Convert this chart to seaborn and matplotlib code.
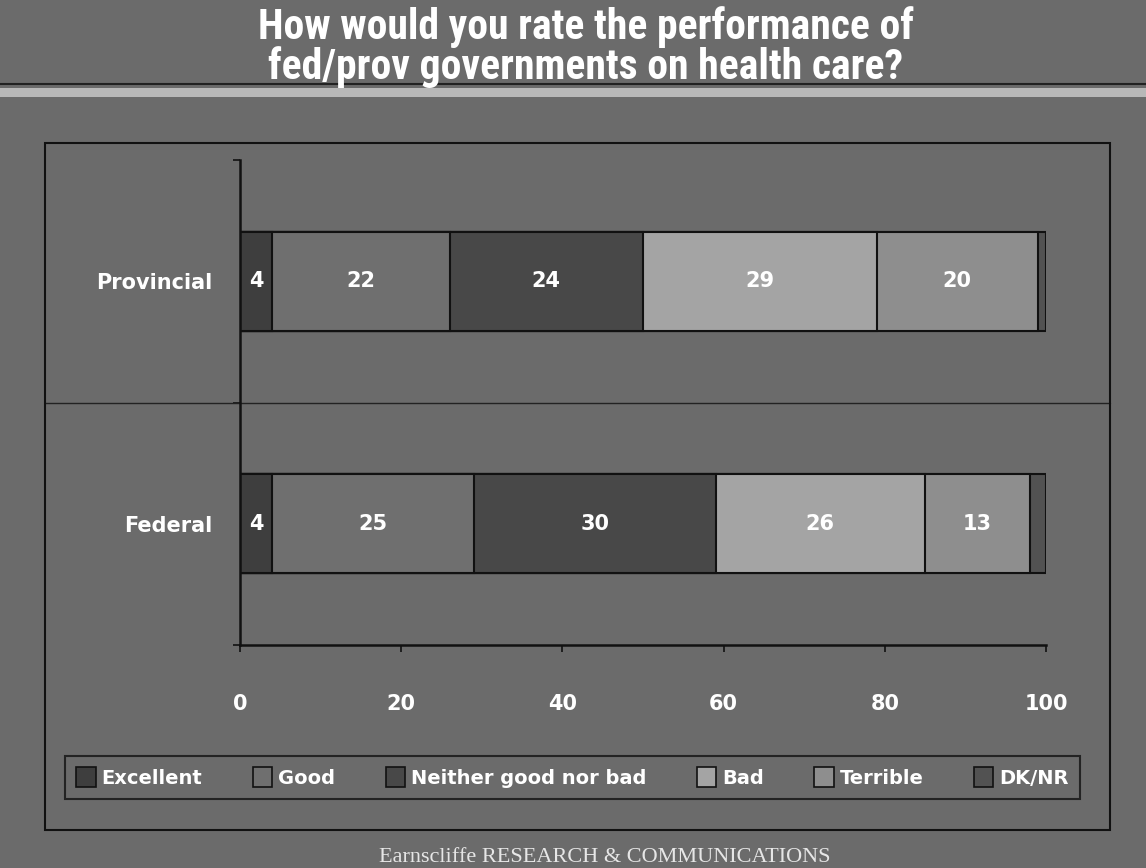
import matplotlib
matplotlib.use("Agg")
import matplotlib.pyplot as plt
import seaborn as sns
import pandas as pd
import numpy as np
from matplotlib.patches import Rectangle, Patch
from matplotlib.lines import Line2D

# ---- data ----
levels = ["Provincial", "Federal"]
series = ["Excellent", "Good", "Neither good nor bad", "Bad", "Terrible", "DK/NR"]
excellent = [4, 4]
good = [22, 25]
neither = [24, 30]
bad = [29, 26]
terrible = [20, 13]
dknr = [1, 2]
xticks = [0, 20, 40, 60, 80, 100]
title_lines = ["How would you rate the performance of",
               "fed/prov governments on health care?"]
footer = "Earnscliffe RESEARCH & COMMUNICATIONS"

colors = ["#3e3e3e", "#6f6f6f", "#484848", "#a4a4a4", "#8e8e8e", "#525252"]
bg = "#6b6b6b"

df = pd.DataFrame({"Level": levels, "Excellent": excellent, "Good": good,
                   "Neither good nor bad": neither, "Bad": bad,
                   "Terrible": terrible, "DK/NR": dknr})
cum = df[series].cumsum(axis=1)
for s in series:
    df["cum_" + s] = cum[s]

sns.set_theme(style="white")
plt.rcParams["font.family"] = ["DejaVu Sans"]

W, H = 1146, 868
fig = plt.figure(figsize=(W / 100, H / 100), dpi=100)
fig.patch.set_facecolor(bg)

def fx(px):
    return px / W

def fy(py):
    return 1 - py / H

# title band decorations
fig.add_artist(Rectangle((0, fy(97)), 1, (97 - 88) / H, transform=fig.transFigure,
                         facecolor="#b8b8b8", edgecolor="none"))
fig.add_artist(Line2D([0, 1], [fy(84), fy(84)], transform=fig.transFigure,
                      color="#222222", lw=1.5))
# outer frame
fig.add_artist(Rectangle((fx(45), fy(830)), (1110 - 45) / W, (830 - 143) / H,
                         transform=fig.transFigure, facecolor="none",
                         edgecolor="#111111", lw=1.5))

ax = fig.add_axes([fx(240), fy(645), (1046 - 240) / W, (645 - 160) / H])
ax.set_facecolor("none")

# stacked bars via overlay of cumulative totals (largest first)
for s, c in reversed(list(zip(series, colors))):
    sns.barplot(data=df, x="cum_" + s, y="Level", order=levels, color=c,
                width=0.41, edgecolor="#111111", linewidth=1.5,
                saturation=1, orient="h", ax=ax, errorbar=None)

ax.set_xlim(0, 100)
ax.set_ylim(1.5, -0.5)
ax.set_xlabel("")
ax.set_ylabel("")

# value labels
for i, lvl in enumerate(levels):
    for s in series[:-1]:
        v = df.loc[i, s]
        center = df.loc[i, "cum_" + s] - v / 2
        ax.text(center, i, str(v), ha="center", va="center", color="white",
                fontsize=15, fontweight="bold")

# separator line between categories across the frame
ax.axhline(0.5, xmin=(45 - 240) / 806, xmax=(1110 - 240) / 806, clip_on=False,
           color="#222222", lw=1.0)

for side in ["top", "right"]:
    ax.spines[side].set_visible(False)
for side in ["left", "bottom"]:
    ax.spines[side].set_color("#111111")
    ax.spines[side].set_linewidth(1.8)

ax.set_xticks(xticks)
ax.set_xticklabels([str(t) for t in xticks], color="white", fontsize=15,
                   fontweight="bold")
ax.tick_params(axis="x", direction="out", length=5, width=1.2, color="#111111",
               pad=30, bottom=True)
ax.set_yticks([0, 1])
ax.set_yticklabels(levels, color="white", fontsize=15, fontweight="bold")
ax.tick_params(axis="y", length=0, pad=20)
ax.set_yticks([-0.5, 0.5, 1.5], minor=True)
ax.tick_params(axis="y", which="minor", direction="out", length=5, width=1.2,
               color="#111111", left=True)

# legend
handles = [Patch(facecolor=c, edgecolor="#111111", lw=1.2, label=s)
           for s, c in zip(series, colors)]
leg = fig.legend(handles=handles, loc="center", ncol=6, mode="expand",
                 bbox_to_anchor=(fx(55), fy(803), (1090 - 55) / W, (803 - 752) / H),
                 frameon=True, fancybox=False, handlelength=1.0, handleheight=1.2,
                 handletextpad=0.3, columnspacing=0.8, borderpad=0.6,
                 prop={"weight": "bold", "size": 14})
leg.get_frame().set_facecolor(bg)
leg.get_frame().set_edgecolor("#111111")
leg.get_frame().set_linewidth(1.5)
for t in leg.get_texts():
    t.set_color("white")

# title (one two-line text)
title_family = ["Roboto Condensed", "Liberation Sans Narrow", "Roboto", "DejaVu Sans"]
fig.text(fx(586), fy(47), "\n".join(title_lines), ha="center", va="center",
         multialignment="center", linespacing=0.95,
         color="white", fontsize=30, fontweight="bold", family=title_family)

# footer
fig.text(fx(605), fy(858), footer, ha="center", va="center", color="#e6e6e6",
         fontsize=16, family=["Liberation Serif", "DejaVu Serif"])

fig.savefig("out.png", dpi=100, facecolor=bg)
